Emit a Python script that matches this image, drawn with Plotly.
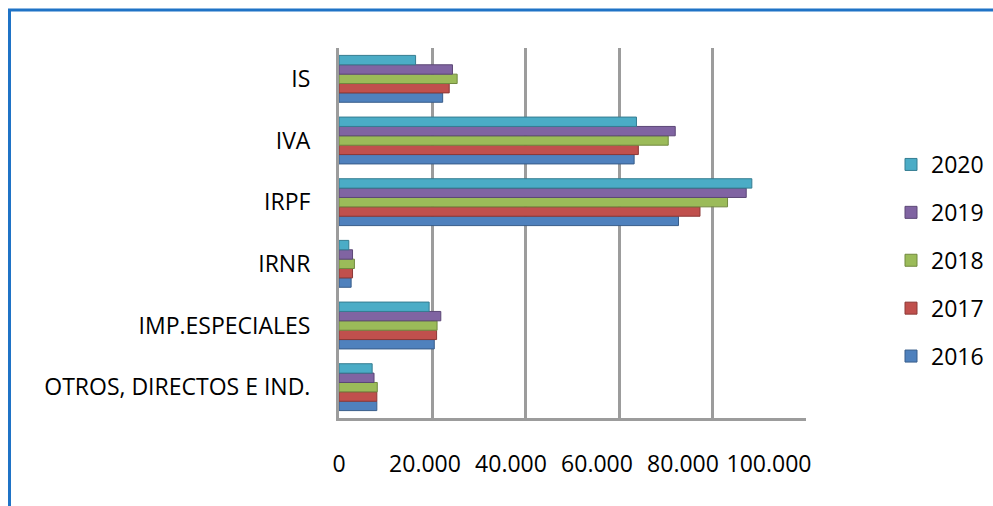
import plotly.graph_objects as go

# ---- data ----
categories = ["OTROS, DIRECTOS E IND.", "IMP.ESPECIALES", "IRNR", "IRPF", "IVA", "IS"]
years = ["2016", "2017", "2018", "2019", "2020"]
v2016 = [8100, 20400, 2600, 72700, 63200, 22200]
v2017 = [8100, 20900, 2900, 77300, 64100, 23600]
v2018 = [8200, 21000, 3300, 83200, 70500, 25300]
v2019 = [7500, 21800, 2900, 87200, 72000, 24300]
v2020 = [7100, 19300, 2100, 88400, 63700, 16400]
x_ticks = [0, 20000, 40000, 60000, 80000, 100000]

series = [v2016, v2017, v2018, v2019, v2020]
colors = ["#4F81BD", "#C0504D", "#9BBB59", "#8064A2", "#4BACC6"]
edges = ["#385D8A", "#8C3836", "#71893F", "#5C4776", "#357D91"]

W, H = 993, 506
L, R, T, B = 339, 806, 48, 418  # plot area in pixels

def px(x):
    return (x - L) / (R - L)

def py(y):
    return (B - y) / (B - T)

FONT = "Open Sans"
FS = 23

fig = go.Figure()
n = len(years)
for i, (name, vals, c, e) in enumerate(zip(years, series, colors, edges)):
    fig.add_trace(go.Bar(
        y=categories, x=vals, name=name, orientation="h",
        marker=dict(color=c, line=dict(color=e, width=1)),
        legendgroup=name, legendrank=n - i,
    ))

# helper axis carrying the (perspective-shifted) tick labels
fig.add_trace(go.Scatter(x=[], y=[], xaxis="x2", yaxis="y", showlegend=False,
                         hoverinfo="skip"))

lab100 = 769  # pixel centre of the "100.000" label
scale = (lab100 - L) / 100000.0
r0 = -1.0
x2_range = [r0, r0 + (R - L) / scale]

fig.update_layout(
    width=W, height=H,
    margin=dict(l=L, r=W - R, t=T, b=H - B, autoexpand=False),
    paper_bgcolor="white", plot_bgcolor="white",
    barmode="group", bargap=0.24, bargroupgap=0.0,
    separators=",.",
    font=dict(family=FONT, size=FS, color="#000000"),
    xaxis=dict(
        range=[0, 100000], tickvals=x_ticks, showticklabels=False,
        showgrid=True, gridcolor="#9C9C9C", gridwidth=2.5,
        zeroline=False, showline=True, linecolor="#9C9C9C", linewidth=3,
        ticks="", fixedrange=True,
    ),
    xaxis2=dict(
        overlaying="x", anchor="y", side="bottom",
        range=x2_range, tickvals=x_ticks, tickformat=",d",
        showgrid=False, zeroline=False, showline=False, ticks="",
        ticklabelstandoff=30, tickfont=dict(family=FONT, size=FS),
    ),
    yaxis=dict(
        range=[-0.5, 5.5], showgrid=False, zeroline=False,
        showline=True, linecolor="#9C9C9C", linewidth=3,
        ticks="", ticklabelstandoff=21,
        tickfont=dict(family=FONT, size=FS),
    ),
    legend=dict(
        x=px(891), y=py(143), xanchor="left", yanchor="top",
        traceorder="grouped", tracegroupgap=15,
        font=dict(family=FONT, size=FS), bgcolor="rgba(0,0,0,0)",
    ),
    shapes=[
        dict(type="line", xref="paper", yref="paper",
             x0=px(9.5), x1=px(9.5), y0=py(9.5), y1=py(H + 5),
             line=dict(color="#1F73C6", width=3)),
        dict(type="line", xref="paper", yref="paper",
             x0=px(8), x1=px(W + 5), y0=py(10), y1=py(10),
             line=dict(color="#1F73C6", width=3)),
    ],
)

fig.write_html("out.html")
